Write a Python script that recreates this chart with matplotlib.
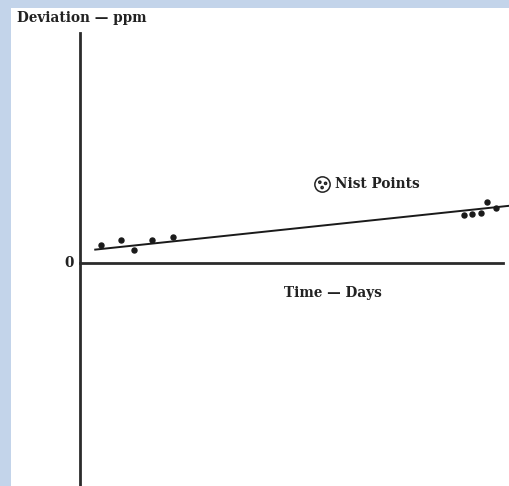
import numpy as np
import matplotlib.pyplot as plt
from matplotlib.path import Path
from matplotlib.patches import Rectangle

# NIST calibration points (days, deviation ppm)
days = [4.9, 9.8, 12.8, 17.0, 21.9, 90.7, 92.7, 94.7, 96.1, 98.3]
dev = [0.78, 0.99, 0.57, 1.01, 1.13, 2.07, 2.12, 2.17, 2.64, 2.38]
# trend line endpoints
trend_x = [3.6, 101.7]
trend_y = [0.58, 2.49]

W, H = 510, 486
fig = plt.figure(figsize=(W / 100, H / 100), dpi=100)
fig.patch.set_facecolor("#c3d4ea")
fig.patches.append(Rectangle((11 / W, 0), 1 - 11 / W, 1 - 8 / H,
                             transform=fig.transFigure, facecolor="white",
                             edgecolor="none", zorder=-10))

ax = fig.add_axes([80 / W, 0, 423 / W, (H - 33) / H])
ax.set_zorder(5)
ax.patch.set_alpha(0)
ax.set_xlim(0, 100)
ax.set_ylim(-9.7, 10)
for s in ["top", "right"]:
    ax.spines[s].set_visible(False)
ax.spines["bottom"].set_position(("data", 0))
for s in ["left", "bottom"]:
    ax.spines[s].set_linewidth(2)
    ax.spines[s].set_color("#2b2b2b")
ax.set_xticks([])
ax.set_yticks([])

ax.plot(trend_x, trend_y, color="#1a1a1a", lw=1.4, clip_on=False)
ax.plot(days, dev, "o", color="#1a1a1a", ms=3.6, clip_on=False)

font = dict(family="DejaVu Serif", weight="bold", color="#222222")
fig.text(17 / W, 1 - 18 / H, "Deviation — ppm", fontsize=9.8, va="center", **font)
ax.text(-1.5, 0, "0", fontsize=9.8, ha="right", va="center", **font)
ax.text(59.8, -1.3, "Time — Days", fontsize=9.8, ha="center", va="center", **font)

# legend symbol: circle with dots inside
circ = Path.unit_circle()
dot = Path.circle((0, 0), 0.14)
parts = [circ]
for dx, dy in [(-0.35, 0.3), (0.4, 0.15), (-0.05, -0.4)]:
    parts.append(Path(dot.vertices + [dx, dy], dot.codes))
sym = Path.make_compound_path(*parts)
ax.plot([57.2], [3.43], marker=sym, ms=11, mfc="none", mec="#222222", mew=1.1)
ax.text(60.3, 3.43, "Nist Points", fontsize=9.8, ha="left", va="center", **font)

fig.savefig("out.png", dpi=100)
